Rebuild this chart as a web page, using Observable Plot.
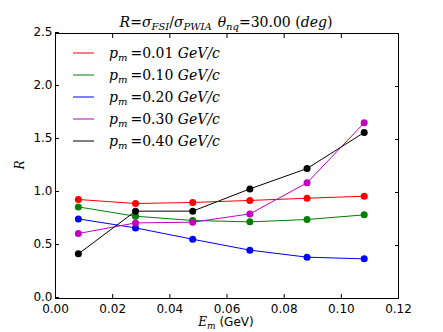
<!DOCTYPE html>
<html>
<head>
<meta charset="utf-8">
<script src="https://cdn.jsdelivr.net/npm/d3@7"></script>
<script src="https://cdn.jsdelivr.net/npm/@observablehq/plot@0.6"></script>
<style>
  html, body { margin: 0; padding: 0; background: #fff; }
</style>
</head>
<body>
<div id="chart"></div>
<script>
const em = [0.008, 0.028, 0.048, 0.068, 0.088, 0.108];
const seriesNames = ["0.01", "0.10", "0.20", "0.30", "0.40"];
const seriesColors = ["#ff0000", "#008000", "#0000ff", "#bf00bf", "#000000"];
const r001 = [0.934, 0.896, 0.906, 0.925, 0.946, 0.965];
const r010 = [0.864, 0.776, 0.736, 0.723, 0.745, 0.789];
const r020 = [0.751, 0.666, 0.559, 0.456, 0.390, 0.374];
const r030 = [0.613, 0.713, 0.720, 0.798, 1.091, 1.657];
const r040 = [0.421, 0.824, 0.824, 1.034, 1.226, 1.566];
const xTicks = [0, 0.02, 0.04, 0.06, 0.08, 0.10, 0.12];
const yTicks = [0, 0.5, 1.0, 1.5, 2.0, 2.5];

const allSeries = [r001, r010, r020, r030, r040];
const data = [];
allSeries.forEach((vals, i) => vals.forEach((v, j) => data.push({s: seriesNames[i], x: em[j], y: v})));

const font = "DejaVu Sans, sans-serif";
const plot = Plot.plot({
  width: 443,
  height: 332,
  marginLeft: 55,
  marginRight: 45,
  marginTop: 33,
  marginBottom: 34,
  style: {fontFamily: font, fontSize: "12px", background: "#fff", color: "#000"},
  x: {domain: [0, 0.12], label: null},
  y: {domain: [0, 2.5], label: null},
  color: {domain: seriesNames, range: seriesColors},
  marks: [
    Plot.line(data, {x: "x", y: "y", z: "s", stroke: "s", strokeWidth: 1}),
    Plot.dot(data, {x: "x", y: "y", fill: "s", r: 3.5}),
    Plot.axisX({anchor: "bottom", ticks: xTicks, tickFormat: d3.format(".2f"), tickSize: -4, tickPadding: 10, fontSize: 12, label: null}),
    Plot.axisX({anchor: "top", ticks: xTicks, tickSize: -4, text: null, label: null}),
    Plot.axisY({anchor: "left", ticks: yTicks, tickFormat: d3.format(".1f"), tickSize: -4, tickPadding: 7, fontSize: 12, label: null, dy: -1}),
    Plot.axisY({anchor: "right", ticks: yTicks, tickSize: -4, text: null, label: null}),
    Plot.frame({stroke: "#000", strokeWidth: 1})
  ]
});

const svg = d3.select(plot);
const serif = "'DejaVu Serif', 'Liberation Serif', serif";

// Title
const t = svg.append("text").attr("x", 226).attr("y", 27).attr("text-anchor", "middle")
  .attr("font-family", serif).attr("font-size", 14).attr("fill", "#000");
t.append("tspan").attr("font-style", "italic").text("R");
t.append("tspan").text("=");
t.append("tspan").attr("font-style", "italic").text("σ");
t.append("tspan").attr("font-style", "italic").attr("font-size", 10).attr("dy", 3).text("FSI");
t.append("tspan").attr("dy", -3).text("/");
t.append("tspan").attr("font-style", "italic").text("σ");
t.append("tspan").attr("font-style", "italic").attr("font-size", 10).attr("dy", 3).text("PWIA");
t.append("tspan").attr("dy", -3).attr("dx", 6).attr("font-style", "italic").text("θ");
t.append("tspan").attr("font-style", "italic").attr("font-size", 10).attr("dy", 3).text("nq");
t.append("tspan").attr("dy", -3).text("=30.00 (");
t.append("tspan").attr("font-style", "italic").text("deg");
t.append("tspan").text(")");

// Axis labels
const xl = svg.append("text").attr("x", 226).attr("y", 326).attr("text-anchor", "middle")
  .attr("font-family", font).attr("font-size", 12).attr("fill", "#000");
xl.append("tspan").attr("font-family", serif).attr("font-style", "italic").text("E");
xl.append("tspan").attr("font-family", serif).attr("font-style", "italic").attr("font-size", 9).attr("dy", 3).text("m");
xl.append("tspan").attr("dy", -3).text(" (GeV)");

svg.append("text").attr("transform", "translate(24,165) rotate(-90)").attr("text-anchor", "middle")
  .attr("font-family", serif).attr("font-style", "italic").attr("font-size", 12).attr("fill", "#000").text("R");

// Legend
const lg = svg.append("g").attr("text-anchor", "start");
seriesNames.forEach((name, i) => {
  const y = 53 + i * 22;
  lg.append("line").attr("x1", 73).attr("x2", 94).attr("y1", y).attr("y2", y)
    .attr("stroke", seriesColors[i]).attr("stroke-width", 1);
  const tx = lg.append("text").attr("x", 109).attr("y", y + 5).attr("text-anchor", "start")
    .attr("font-family", serif).attr("font-size", 14).attr("fill", "#000");
  tx.append("tspan").attr("font-style", "italic").text("p");
  tx.append("tspan").attr("font-style", "italic").attr("font-size", 10).attr("dy", 3).text("m");
  tx.append("tspan").attr("dy", -3).attr("dx", 3).text("=" + name + " ");
  tx.append("tspan").attr("font-style", "italic").text("GeV/c");
});

document.getElementById("chart").appendChild(plot);
</script>
</body>
</html>
